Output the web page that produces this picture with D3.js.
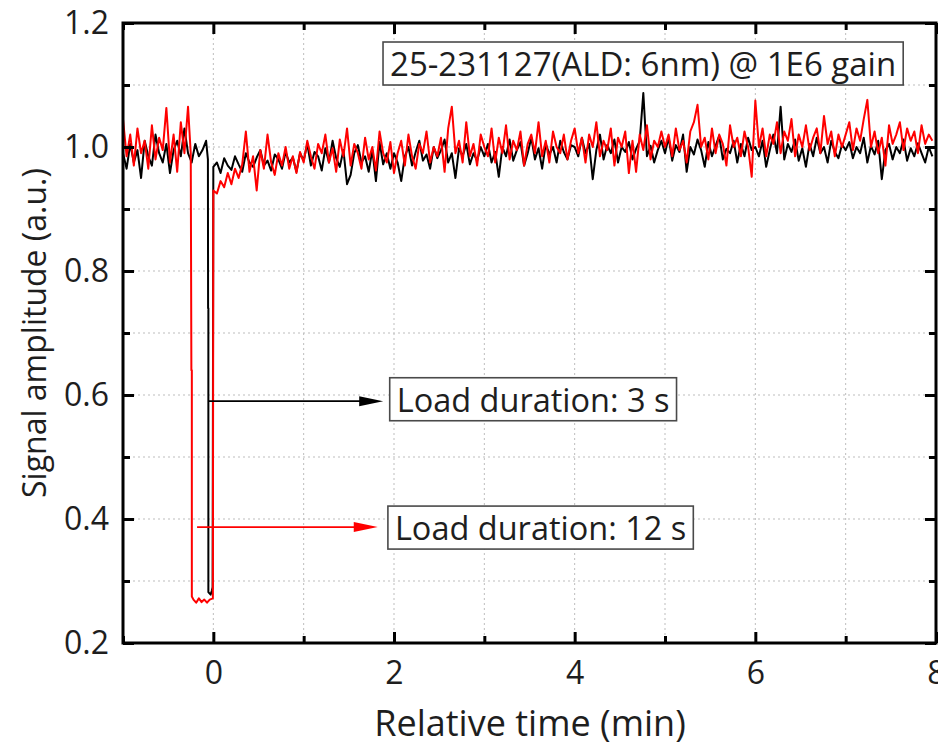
<!DOCTYPE html>
<html>
<head>
<meta charset="utf-8">
<script src="https://cdn.jsdelivr.net/npm/d3@7"></script>
<style>
  body { margin: 0; background: #fff; }
  text { font-family: "Open Sans", "Noto Sans", sans-serif; fill: #1e1e1e; }
</style>
</head>
<body>
<svg id="chart" width="938" height="748"></svg>
<script>
// sampling of the noisy traces (min)
var step = 0.04

// black trace: 3 s load
var blackPreStart = -1
var blackPre = [0.99,0.965,1.005,0.975,0.995,0.95,1.01,0.985,0.97,1.02,0.99,0.975,1.005,0.958,0.995,1.01,0.985,1.03,0.99,0.975,1.005,0.985,0.995,1.01]
var blackDrop = [[-0.06,0.98],[-0.058,0.74],[-0.055,0.74],[-0.055,0.282],[-0.03,0.278],[-0.015,0.285],[-0.008,0.29]]
var blackPost = [
  0.968,0.975,0.958,0.982,0.97,0.963,0.985,0.972,0.96,0.99,0.975,0.968,0.983,0.995,0.97,0.978,0.962,0.988,0.98,0.965,0.992,0.975,0.983,0.96,0.99,
  0.978,1.005,0.97,0.992,0.985,0.962,0.998,0.975,1.01,0.982,0.968,0.995,0.94,0.955,0.99,1.003,0.975,0.985,0.96,0.995,0.945,1.008,0.972,0.99,0.965,
  0.99,0.975,0.945,0.985,1.0,0.97,0.992,1.01,0.978,0.988,0.965,1.0,0.982,0.995,1.012,0.975,0.99,0.95,0.998,0.985,1.005,0.972,0.99,0.978,1.0,
  0.985,1.005,0.975,0.992,0.952,1.0,0.985,1.012,0.978,0.995,1.008,0.97,0.99,1.015,0.98,0.998,0.965,1.005,0.988,1.0,0.975,1.01,0.992,0.98,1.003,
  1.0,0.985,1.015,0.99,1.005,0.948,0.995,1.02,0.98,1.003,0.99,1.012,0.975,1.0,0.992,1.008,0.98,0.997,1.01,1.087,0.985,1.002,0.975,0.995,1.01,
  0.99,1.015,0.978,1.003,0.992,1.02,0.96,1.0,0.988,1.012,0.995,0.968,1.008,0.985,1.002,1.018,0.98,0.997,0.99,1.01,0.975,1.005,0.985,1.015,0.995,
  1.0,0.985,1.01,0.968,0.995,1.02,0.99,1.065,0.98,1.005,0.992,1.012,0.978,0.998,0.968,1.005,0.985,1.015,0.99,1.0,0.975,1.01,0.992,0.982,1.004,
  0.995,1.008,0.982,1.0,0.99,1.015,0.975,1.002,0.988,1.01,0.948,0.995,1.005,0.98,1.0,0.99,1.012,0.978,0.998,0.985,1.006,0.99,0.975,1.0,0.985
]

// red trace: 12 s load
var redPreStart = -1
var redPre = [1.045,0.985,1.02,0.97,1.03,0.99,1.01,0.965,1.035,0.98,1.015,0.995,1.063,0.975,1.02,0.96,1.04,0.99,1.065]
var redDrop = [[-0.25,0.99],[-0.243,0.64],[-0.238,0.64],[-0.238,0.275],[-0.22,0.27],[-0.19,0.265],[-0.16,0.272],[-0.13,0.266],[-0.1,0.27],[-0.07,0.265],[-0.04,0.27],[-0.005,0.272]]
var redPost = [
  0.93,0.925,0.945,0.935,0.958,0.94,0.965,0.95,0.972,1.025,0.96,0.985,0.93,0.995,0.965,1.02,0.975,0.955,0.99,0.97,1.0,0.965,0.985,0.958,0.992,
  0.975,1.01,0.985,0.965,1.005,0.99,1.02,0.975,0.998,0.96,1.012,0.985,1.03,0.97,1.005,0.99,0.965,1.015,0.98,1.0,0.962,1.025,0.99,0.975,1.008,
  0.958,0.99,1.01,0.97,1.02,0.985,0.965,1.005,0.99,1.025,0.975,1.0,0.985,1.015,0.96,1.03,1.065,0.99,1.01,0.975,1.04,0.985,1.005,0.97,1.02,
  1.0,0.985,1.03,0.975,1.015,0.99,1.035,0.98,1.01,0.995,1.025,0.97,1.005,1.02,0.99,1.04,0.985,1.01,0.975,1.025,1.0,0.99,1.02,0.98,1.01,
  1.03,0.99,1.015,0.975,1.02,1.0,1.04,0.985,1.01,0.995,1.03,0.97,1.015,1.0,1.025,0.958,1.01,0.96,1.02,0.995,1.035,0.98,1.01,1.0,1.025,
  1.0,1.02,0.985,1.03,0.995,1.01,0.975,1.025,1.04,1.068,1.0,1.015,0.98,1.03,0.99,1.02,1.005,0.97,1.035,1.0,1.015,0.985,1.025,1.0,0.952,
  1.075,1.0,1.03,0.985,1.02,1.005,1.04,0.99,1.025,1.01,1.045,0.985,1.02,1.0,1.035,0.995,1.015,1.03,0.99,1.05,1.005,1.025,0.985,1.02,1.0,
  1.02,1.04,0.995,1.03,1.01,1.045,1.076,1.0,1.025,0.99,1.015,0.97,1.035,1.005,1.02,1.04,0.995,1.03,1.01,1.025,0.99,1.035,1.005,1.02,1.01
]

var xMajor = [0, 2, 4, 6, 8]
var xMinor = [-1, 1, 3, 5, 7]
var yMajor = [0.2, 0.4, 0.6, 0.8, 1.0, 1.2]
var yMinor = [0.3, 0.5, 0.7, 0.9, 1.1]

var titleText = "25-231127(ALD: 6nm) @ 1E6 gain"
var notes = [
    { text: "Load duration: 3 s", from: -0.055, to: 1.88, y: 0.59, tx: 2.03, ty: 0.573, color: "#000" },
    { text: "Load duration: 12 s", from: -0.18, to: 1.82, y: 0.387, tx: 2.01, ty: 0.366, color: "#f00" }
]

var svg = d3.select("#chart")
var x = d3.scaleLinear().domain([-1, 8]).range([123, 936])
var y = d3.scaleLinear().domain([0.2, 1.2]).range([643, 23])

function build(start, pre, drop, post) {
    var pts = pre.map((v, i) => [start + i * step, v])
    pts = pts.concat(drop)
    return pts.concat(post.map((v, i) => [i * step, v]))
}
var black = build(blackPreStart, blackPre, blackDrop, blackPost)
var red = build(redPreStart, redPre, redDrop, redPost)

// grid
var grid = svg.append("g").attr("stroke", "#bdbdbd").attr("stroke-width", 1).attr("stroke-dasharray", "2,3")
grid.selectAll(".gx").data(xMajor.concat(xMinor).filter(d => d > -1 && d < 8))
    .enter().append("line")
    .attr("x1", d => x(d)).attr("x2", d => x(d)).attr("y1", y(1.2)).attr("y2", y(0.2))
grid.selectAll(".gy").data(yMajor.concat(yMinor).filter(d => d > 0.2 && d < 1.2))
    .enter().append("line")
    .attr("y1", d => y(d)).attr("y2", d => y(d)).attr("x1", x(-1)).attr("x2", x(8))

svg.append("clipPath").attr("id", "clip")
    .append("rect").attr("x", x(-1)).attr("y", y(1.2)).attr("width", x(8) - x(-1)).attr("height", y(0.2) - y(1.2))

var line = d3.line().x(d => x(d[0])).y(d => y(d[1]))
var plot = svg.append("g").attr("clip-path", "url(#clip)")
plot.append("path").datum(black).attr("d", line)
    .attr("fill", "none").attr("stroke", "#000").attr("stroke-width", 2).attr("stroke-linejoin", "round")
plot.append("path").datum(red).attr("d", line)
    .attr("fill", "none").attr("stroke", "#ff0000").attr("stroke-width", 2).attr("stroke-linejoin", "round")

// axes, ticks pointing inward on all four sides
function styleAxis(g) {
    g.select(".domain").remove()
    g.selectAll(".tick line").attr("stroke", "#000").attr("stroke-width", 3)
}
function ticks(axis, pos, values, size, labels) {
    var g = svg.append("g").attr("transform", pos)
        .call(axis.tickValues(values).tickSize(-size).tickPadding(14).tickFormat(labels ? null : ""))
    styleAxis(g)
    return g
}
var xb = ticks(d3.axisBottom(x), "translate(0,643)", xMajor, 11, true)
ticks(d3.axisBottom(x), "translate(0,643)", xMinor, 7, false)
ticks(d3.axisTop(x), "translate(0,23)", xMajor, 11, false)
ticks(d3.axisTop(x), "translate(0,23)", xMinor, 7, false)
var yl = ticks(d3.axisLeft(y).tickFormat(d3.format(".1f")), "translate(123,0)", yMajor, 11, true)
ticks(d3.axisLeft(y), "translate(123,0)", yMinor, 7, false)
ticks(d3.axisRight(y), "translate(936,0)", yMajor, 11, false)
ticks(d3.axisRight(y), "translate(936,0)", yMinor, 7, false)
xb.selectAll("text").attr("font-size", 32).attr("font-family", "Open Sans").attr("fill", "#1e1e1e").attr("dy", "0.85em")
yl.selectAll("text").attr("font-size", 32).attr("font-family", "Open Sans").attr("fill", "#1e1e1e")

svg.append("rect").attr("x", x(-1)).attr("y", y(1.2)).attr("width", x(8) - x(-1)).attr("height", y(0.2) - y(1.2))
    .attr("fill", "none").attr("stroke", "#000").attr("stroke-width", 3)

svg.append("text").attr("x", 530).attr("y", 736).attr("text-anchor", "middle")
    .attr("font-size", 36).text("Relative time (min)")
svg.append("text").attr("transform", "translate(46,333) rotate(-90)").attr("text-anchor", "middle")
    .attr("font-size", 32).text("Signal amplitude (a.u.)")

// boxed labels
function boxed(txt, tx, ty, size, padX, padY) {
    var t = svg.append("text").attr("x", x(tx)).attr("y", y(ty)).attr("font-size", size).text(txt)
    var b = t.node().getBBox()
    svg.insert("rect", function() { return t.node() })
        .attr("x", b.x - padX).attr("y", b.y - padY).attr("width", b.width + 2 * padX).attr("height", b.height + 2 * padY)
        .attr("fill", "#fff").attr("stroke", "#4a4a4a").attr("stroke-width", 1.6)
}
boxed(titleText, 1.956, 1.1145, 33, 7, -1)

notes.forEach(function(n) {
    var x1 = x(n.from), x2 = x(n.to), yy = y(n.y)
    svg.append("line").attr("x1", x1).attr("x2", x2 - 20).attr("y1", yy).attr("y2", yy)
        .attr("stroke", n.color).attr("stroke-width", 1.8)
    svg.append("path").attr("d", "M" + x2 + "," + yy + "L" + (x2 - 24) + "," + (yy - 5) + "L" + (x2 - 24) + "," + (yy + 5) + "Z")
        .attr("fill", n.color)
    boxed(n.text, n.tx, n.ty, 32.5, 7, -1)
})
</script>
</body>
</html>
